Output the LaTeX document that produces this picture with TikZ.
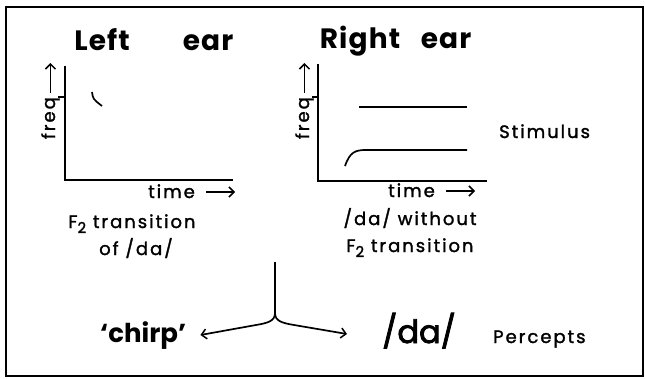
\documentclass[tikz,border=0pt]{standalone}
\usepackage{fontspec}
\setmainfont{Poppins}
\newfontfamily\spaced[LetterSpace=11,FakeBold=1.6]{Poppins}
\newfontfamily\heavy[FakeBold=2.5]{Poppins}
\newfontfamily\titlefont[LetterSpace=4]{Poppins}
\usetikzlibrary{arrows.meta}
\begin{document}
\begin{tikzpicture}[x=1pt,y=-1pt,
  ln/.style={line width=1.7pt},
  barb/.style={-{Straight Barb[length=5pt,width=10pt,line width=1.5pt]}},
  lbl/.style={inner sep=0pt, anchor=base west, font=\spaced\fontsize{18}{22}\selectfont},
  ttl/.style={inner sep=0pt, anchor=base, font=\titlefont\fontsize{28}{32}\selectfont\bfseries},
  big/.style={inner sep=0pt, anchor=base west, font=\heavy\fontsize{32}{36}\selectfont}]
\useasboundingbox (0,0) rectangle (645,378);
\draw[line width=1.5pt] (6,7) rectangle (643,376);
% titles
\node[ttl] (leftT) at (102,50) {Left};
\node[ttl] (leftE) at (208,50) {ear};
\node[ttl] (rightT) at (360,48) {Right};
\node[ttl] (rightE) at (446,48) {ear};
% left plot
\draw[ln] (65,66) -- (65,180) -- (233,180);
\draw[ln] (58,97) -- (65,97);
\draw[ln] (92,92) .. controls (93,99) .. (102,106);
\node[lbl, rotate=90, anchor=base east] (freqL) at (55,97) {freq};
\draw[ln,barb] ([yshift=4pt]freqL.east) -- ++(0,-30);
\node[lbl] (timeL) at (148,198) {time};
\draw[ln,barb] ([xshift=11pt,yshift=6pt]timeL.base east) -- ++(29,0);
% right plot
\draw[ln] (318,64) -- (318,181) -- (487,181);
\draw[ln] (312,97) -- (318,97);
\draw[ln] (359,107) -- (467,107);
\draw[ln] (345,166) .. controls (350,152) and (355,150) .. (366,150) -- (467,150);
\node[lbl, rotate=90, anchor=base east] (freqR) at (309,97) {freq};
\draw[ln,barb] ([yshift=4pt]freqR.east) -- ++(0,-30);
\node[lbl] (timeR) at (388,197) {time};
\draw[ln,barb] ([xshift=11pt,yshift=6pt]timeR.base east) -- ++(29,0);
% captions
\node[lbl, anchor=base] (capL1) at (132,228) {F\raisebox{-5pt}{\fontsize{15}{15}\selectfont 2} transition};
\node[lbl, anchor=base] (capL2) at (136,255) {of /da/};
\node[lbl, anchor=base] (capR1) at (410,225) {/da/ without};
\node[lbl, anchor=base] (capR2) at (410,252) {F\raisebox{-5pt}{\fontsize{15}{15}\selectfont 2} transition};
\node[lbl] (stim) at (499,138) {Stimulus};
% percepts
\node[big, font=\fontsize{26}{30}\selectfont\bfseries] (chirp) at (100,342) {‘chirp’};
\node[big] (da) at (382,343) {/da/};
\node[lbl] (perc) at (493,343) {Percepts};
\coordinate (ftop) at (275,262);
\coordinate (fj) at (275,313);
\draw[ln] (ftop) -- (fj);
\draw[ln,barb] (fj) .. controls (275,321) and (268,323) .. (256,325) -- ([xshift=14pt,yshift=7pt]chirp.base east);
\draw[ln,barb] (fj) .. controls (275,321) and (282,323) .. (294,325) -- ([xshift=-35pt,yshift=9pt]da.base west);
\end{tikzpicture}
\end{document}
